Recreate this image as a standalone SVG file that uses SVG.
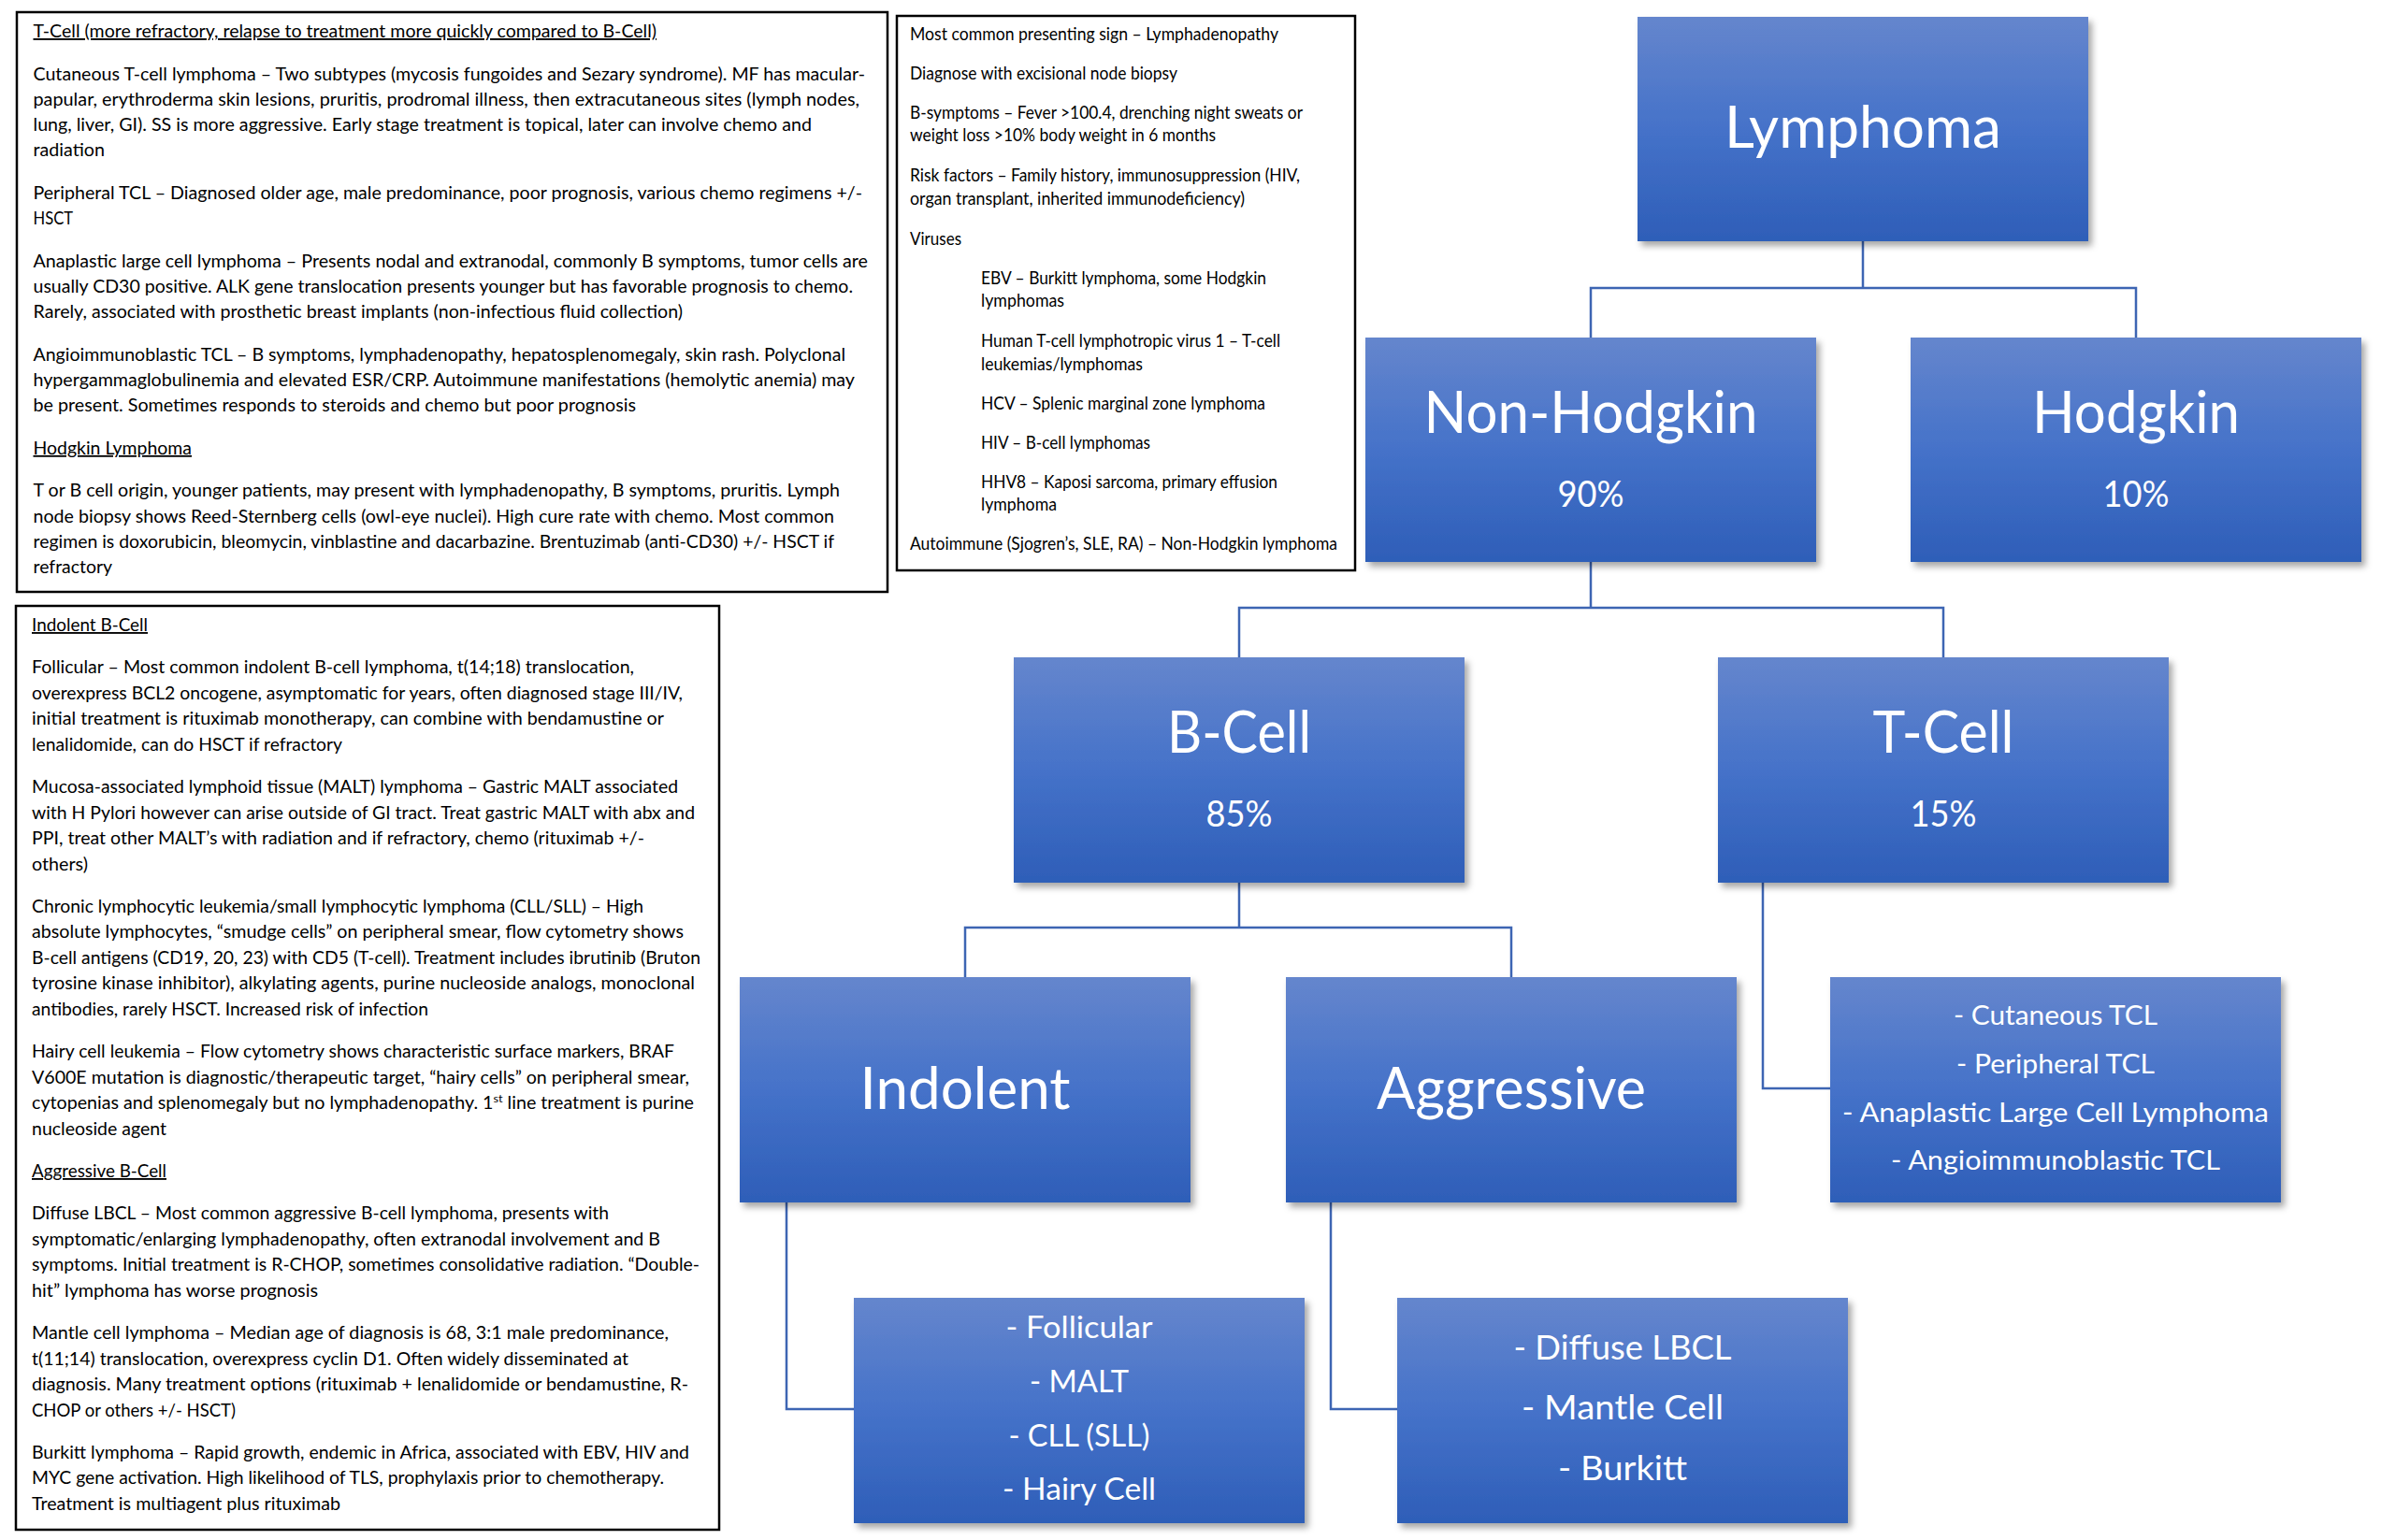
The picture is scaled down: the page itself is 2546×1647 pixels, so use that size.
<svg xmlns="http://www.w3.org/2000/svg" width="2546" height="1647" viewBox="0 0 2546 1647">
<defs>
<linearGradient id="bg" x1="0" y1="0" x2="0" y2="1">
<stop offset="0" stop-color="#6586CD"/>
<stop offset="0.5" stop-color="#4572C9"/>
<stop offset="1" stop-color="#2E5EB8"/>
</linearGradient>
<filter id="sh" x="-10%" y="-10%" width="125%" height="130%">
<feDropShadow dx="4" dy="5" stdDeviation="3.5" flood-color="#000" flood-opacity="0.35"/>
</filter>
<style>
.bg{fill:#fff}
.box{fill:url(#bg);filter:url(#sh)}
.note{fill:#fff;stroke:#000;stroke-width:2.5}
.con{fill:none;stroke:#3D65B3;stroke-width:2.5}
.lbl{font-family:Lato,'Liberation Sans',sans-serif;fill:#fff;text-anchor:middle}
.big{font-size:61px}
.pct{font-size:38px}
.l33{font-size:29.5px}
.l36{font-size:32.5px}
.l42{font-size:37.5px}
.t{font-family:Lato,'Liberation Sans',sans-serif;font-size:18.5px;fill:#000}
.m{font-family:Lato,'Liberation Sans',sans-serif;font-size:19px;fill:#000}
.u{text-decoration:underline}
</style>
</defs>
<rect class="bg" x="0" y="0" width="2546" height="1647"/>

<g id="connectors">
<path class="con" d="M1992,258 V308 M1701,361 V308 H2284 V361"/>
<path class="con" d="M1701,601 V650 M1325,703 V650 H2078 V703"/>
<path class="con" d="M1325,944 V992 M1032,1045 V992 H1616 V1045"/>
<path class="con" d="M841,1285 V1507 H913"/>
<path class="con" d="M1423,1285 V1507 H1494"/>
<path class="con" d="M1885,943 V1164 H1957"/>
</g>

<g id="node-lymphoma">
<rect class="box" x="1751" y="18" width="482" height="240"/>
<text class="lbl big" x="1992" y="158" textLength="296" lengthAdjust="spacingAndGlyphs">Lymphoma</text>
</g>
<g id="node-nonhodgkin">
<rect class="box" x="1460" y="361" width="482" height="240"/>
<text class="lbl big" x="1701" y="463" textLength="357" lengthAdjust="spacingAndGlyphs">Non-Hodgkin</text>
<text class="lbl pct" x="1701" y="542" textLength="71" lengthAdjust="spacingAndGlyphs">90%</text>
</g>
<g id="node-hodgkin">
<rect class="box" x="2043" y="361" width="482" height="240"/>
<text class="lbl big" x="2284" y="463" textLength="222" lengthAdjust="spacingAndGlyphs">Hodgkin</text>
<text class="lbl pct" x="2284" y="542" textLength="71" lengthAdjust="spacingAndGlyphs">10%</text>
</g>
<g id="node-bcell">
<rect class="box" x="1084" y="703" width="482" height="241"/>
<text class="lbl big" x="1325" y="805" textLength="154" lengthAdjust="spacingAndGlyphs">B-Cell</text>
<text class="lbl pct" x="1325" y="884" textLength="71" lengthAdjust="spacingAndGlyphs">85%</text>
</g>
<g id="node-tcell">
<rect class="box" x="1837" y="703" width="482" height="241"/>
<text class="lbl big" x="2078" y="805" textLength="151" lengthAdjust="spacingAndGlyphs">T-Cell</text>
<text class="lbl pct" x="2078" y="884" textLength="71" lengthAdjust="spacingAndGlyphs">15%</text>
</g>
<g id="node-indolent">
<rect class="box" x="791" y="1045" width="482" height="241"/>
<text class="lbl big" x="1032" y="1186" textLength="225" lengthAdjust="spacingAndGlyphs">Indolent</text>
</g>
<g id="node-aggressive">
<rect class="box" x="1375" y="1045" width="482" height="241"/>
<text class="lbl big" x="1616" y="1186" textLength="288" lengthAdjust="spacingAndGlyphs">Aggressive</text>
</g>
<g id="node-tcell-list">
<rect class="box" x="1957" y="1045" width="482" height="241"/>
<text class="lbl l33" x="2198" y="1096" textLength="218" lengthAdjust="spacingAndGlyphs">- Cutaneous TCL</text>
<text class="lbl l33" x="2198" y="1148" textLength="212" lengthAdjust="spacingAndGlyphs">- Peripheral TCL</text>
<text class="lbl l33" x="2198" y="1200" textLength="456" lengthAdjust="spacingAndGlyphs">- Anaplastic Large Cell Lymphoma</text>
<text class="lbl l33" x="2198" y="1251" textLength="352" lengthAdjust="spacingAndGlyphs">- Angioimmunoblastic TCL</text>
</g>
<g id="node-indolent-list">
<rect class="box" x="913" y="1388" width="482" height="241"/>
<text class="lbl l36" x="1154" y="1431" textLength="157" lengthAdjust="spacingAndGlyphs">- Follicular</text>
<text class="lbl l36" x="1154" y="1489" textLength="106" lengthAdjust="spacingAndGlyphs">- MALT</text>
<text class="lbl l36" x="1154" y="1547" textLength="151" lengthAdjust="spacingAndGlyphs">- CLL (SLL)</text>
<text class="lbl l36" x="1154" y="1604" textLength="164" lengthAdjust="spacingAndGlyphs">- Hairy Cell</text>
</g>
<g id="node-aggressive-list">
<rect class="box" x="1494" y="1388" width="482" height="241"/>
<text class="lbl l42" x="1735" y="1454" textLength="233" lengthAdjust="spacingAndGlyphs">- Diffuse LBCL</text>
<text class="lbl l42" x="1735" y="1518" textLength="216" lengthAdjust="spacingAndGlyphs">- Mantle Cell</text>
<text class="lbl l42" x="1735" y="1583" textLength="138" lengthAdjust="spacingAndGlyphs">- Burkitt</text>
</g>

<g id="note-tcell-hodgkin">
<rect class="note" x="18" y="13" width="931" height="620"/>
<text class="t u" x="35.5" y="40" textLength="666.5" lengthAdjust="spacingAndGlyphs">T-Cell (more refractory, relapse to treatment more quickly compared to B-Cell)</text>
<text class="t" x="35.5" y="85.5" textLength="889.5" lengthAdjust="spacingAndGlyphs">Cutaneous T-cell lymphoma – Two subtypes (mycosis fungoides and Sezary syndrome). MF has macular-</text>
<text class="t" x="35.5" y="112.8" textLength="883.5" lengthAdjust="spacingAndGlyphs">papular, erythroderma skin lesions, pruritis, prodromal illness, then extracutaneous sites (lymph nodes,</text>
<text class="t" x="35.5" y="140.1" textLength="832.5" lengthAdjust="spacingAndGlyphs">lung, liver, GI). SS is more aggressive. Early stage treatment is topical, later can involve chemo and</text>
<text class="t" x="35.5" y="167.4" textLength="76.5" lengthAdjust="spacingAndGlyphs">radiation</text>
<text class="t" x="35.5" y="212.9" textLength="886.5" lengthAdjust="spacingAndGlyphs">Peripheral TCL – Diagnosed older age, male predominance, poor prognosis, various chemo regimens +/-</text>
<text class="t" x="35.5" y="240.2" textLength="42.5" lengthAdjust="spacingAndGlyphs">HSCT</text>
<text class="t" x="35.5" y="285.7" textLength="892.5" lengthAdjust="spacingAndGlyphs">Anaplastic large cell lymphoma – Presents nodal and extranodal, commonly B symptoms, tumor cells are</text>
<text class="t" x="35.5" y="313" textLength="876.5" lengthAdjust="spacingAndGlyphs">usually CD30 positive. ALK gene translocation presents younger but has favorable prognosis to chemo.</text>
<text class="t" x="35.5" y="340.3" textLength="694.5" lengthAdjust="spacingAndGlyphs">Rarely, associated with prosthetic breast implants (non-infectious fluid collection)</text>
<text class="t" x="35.5" y="385.8" textLength="868.5" lengthAdjust="spacingAndGlyphs">Angioimmunoblastic TCL – B symptoms, lymphadenopathy, hepatosplenomegaly, skin rash. Polyclonal</text>
<text class="t" x="35.5" y="413.1" textLength="878.5" lengthAdjust="spacingAndGlyphs">hypergammaglobulinemia and elevated ESR/CRP. Autoimmune manifestations (hemolytic anemia) may</text>
<text class="t" x="35.5" y="440.4" textLength="644.5" lengthAdjust="spacingAndGlyphs">be present. Sometimes responds to steroids and chemo but poor prognosis</text>
<text class="t u" x="35.5" y="485.9" textLength="169.5" lengthAdjust="spacingAndGlyphs">Hodgkin Lymphoma</text>
<text class="t" x="35.5" y="531.4" textLength="862.5" lengthAdjust="spacingAndGlyphs">T or B cell origin, younger patients, may present with lymphadenopathy, B symptoms, pruritis. Lymph</text>
<text class="t" x="35.5" y="558.7" textLength="856.5" lengthAdjust="spacingAndGlyphs">node biopsy shows Reed-Sternberg cells (owl-eye nuclei). High cure rate with chemo. Most common</text>
<text class="t" x="35.5" y="586" textLength="856.5" lengthAdjust="spacingAndGlyphs">regimen is doxorubicin, bleomycin, vinblastine and dacarbazine. Brentuzimab (anti-CD30) +/- HSCT if</text>
<text class="t" x="35.5" y="613.3" textLength="84.5" lengthAdjust="spacingAndGlyphs">refractory</text>
</g>

<g id="note-general">
<rect class="note" x="959" y="17" width="490" height="593"/>
<text class="m" x="973" y="43" textLength="394" lengthAdjust="spacingAndGlyphs">Most common presenting sign – Lymphadenopathy</text>
<text class="m" x="973" y="85" textLength="286" lengthAdjust="spacingAndGlyphs">Diagnose with excisional node biopsy</text>
<text class="m" x="973" y="127" textLength="420" lengthAdjust="spacingAndGlyphs">B-symptoms – Fever &gt;100.4, drenching night sweats or</text>
<text class="m" x="973" y="151" textLength="327" lengthAdjust="spacingAndGlyphs">weight loss &gt;10% body weight in 6 months</text>
<text class="m" x="973" y="194" textLength="417" lengthAdjust="spacingAndGlyphs">Risk factors – Family history, immunosuppression (HIV,</text>
<text class="m" x="973" y="219" textLength="358" lengthAdjust="spacingAndGlyphs">organ transplant, inherited immunodeficiency)</text>
<text class="m" x="973" y="262" textLength="55" lengthAdjust="spacingAndGlyphs">Viruses</text>
<text class="m" x="1049" y="304" textLength="305" lengthAdjust="spacingAndGlyphs">EBV – Burkitt lymphoma, some Hodgkin</text>
<text class="m" x="1049" y="328" textLength="89" lengthAdjust="spacingAndGlyphs">lymphomas</text>
<text class="m" x="1049" y="371" textLength="320" lengthAdjust="spacingAndGlyphs">Human T-cell lymphotropic virus 1 – T-cell</text>
<text class="m" x="1049" y="396" textLength="173" lengthAdjust="spacingAndGlyphs">leukemias/lymphomas</text>
<text class="m" x="1049" y="438" textLength="304" lengthAdjust="spacingAndGlyphs">HCV – Splenic marginal zone lymphoma</text>
<text class="m" x="1049" y="480" textLength="181" lengthAdjust="spacingAndGlyphs">HIV – B-cell lymphomas</text>
<text class="m" x="1049" y="522" textLength="317" lengthAdjust="spacingAndGlyphs">HHV8 – Kaposi sarcoma, primary effusion</text>
<text class="m" x="1049" y="546" textLength="81" lengthAdjust="spacingAndGlyphs">lymphoma</text>
<text class="m" x="973" y="588" textLength="457" lengthAdjust="spacingAndGlyphs">Autoimmune (Sjogren’s, SLE, RA) – Non-Hodgkin lymphoma</text>
</g>

<g id="note-bcell">
<rect class="note" x="17" y="648" width="752" height="988"/>
<text class="t u" x="34" y="675" textLength="124" lengthAdjust="spacingAndGlyphs">Indolent B-Cell</text>
<text class="t" x="34" y="720.3" textLength="644" lengthAdjust="spacingAndGlyphs">Follicular – Most common indolent B-cell lymphoma, t(14;18) translocation,</text>
<text class="t" x="34" y="747.8" textLength="696" lengthAdjust="spacingAndGlyphs">overexpress BCL2 oncogene, asymptomatic for years, often diagnosed stage III/IV,</text>
<text class="t" x="34" y="775.3" textLength="676" lengthAdjust="spacingAndGlyphs">initial treatment is rituximab monotherapy, can combine with bendamustine or</text>
<text class="t" x="34" y="802.8" textLength="332" lengthAdjust="spacingAndGlyphs">lenalidomide, can do HSCT if refractory</text>
<text class="t" x="34" y="848.1" textLength="691" lengthAdjust="spacingAndGlyphs">Mucosa-associated lymphoid tissue (MALT) lymphoma – Gastric MALT associated</text>
<text class="t" x="34" y="875.6" textLength="709" lengthAdjust="spacingAndGlyphs">with H Pylori however can arise outside of GI tract. Treat gastric MALT with abx and</text>
<text class="t" x="34" y="903.1" textLength="655" lengthAdjust="spacingAndGlyphs">PPI, treat other MALT’s with radiation and if refractory, chemo (rituximab +/-</text>
<text class="t" x="34" y="930.6" textLength="60" lengthAdjust="spacingAndGlyphs">others)</text>
<text class="t" x="34" y="975.9" textLength="654" lengthAdjust="spacingAndGlyphs">Chronic lymphocytic leukemia/small lymphocytic lymphoma (CLL/SLL) – High</text>
<text class="t" x="34" y="1003.4" textLength="697" lengthAdjust="spacingAndGlyphs">absolute lymphocytes, “smudge cells” on peripheral smear, flow cytometry shows</text>
<text class="t" x="34" y="1030.9" textLength="715" lengthAdjust="spacingAndGlyphs">B-cell antigens (CD19, 20, 23) with CD5 (T-cell). Treatment includes ibrutinib (Bruton</text>
<text class="t" x="34" y="1058.4" textLength="709" lengthAdjust="spacingAndGlyphs">tyrosine kinase inhibitor), alkylating agents, purine nucleoside analogs, monoclonal</text>
<text class="t" x="34" y="1085.9" textLength="424" lengthAdjust="spacingAndGlyphs">antibodies, rarely HSCT. Increased risk of infection</text>
<text class="t" x="34" y="1131.2" textLength="687" lengthAdjust="spacingAndGlyphs">Hairy cell leukemia – Flow cytometry shows characteristic surface markers, BRAF</text>
<text class="t" x="34" y="1158.7" textLength="703" lengthAdjust="spacingAndGlyphs">V600E mutation is diagnostic/therapeutic target, “hairy cells” on peripheral smear,</text>
<text class="t" x="34" y="1186.2" textLength="708" lengthAdjust="spacingAndGlyphs">cytopenias and splenomegaly but no lymphadenopathy. 1<tspan font-size="12" baseline-shift="super">st</tspan> line treatment is purine</text>
<text class="t" x="34" y="1213.7" textLength="144" lengthAdjust="spacingAndGlyphs">nucleoside agent</text>
<text class="t u" x="34" y="1259" textLength="144" lengthAdjust="spacingAndGlyphs">Aggressive B-Cell</text>
<text class="t" x="34" y="1304.3" textLength="617" lengthAdjust="spacingAndGlyphs">Diffuse LBCL – Most common aggressive B-cell lymphoma, presents with</text>
<text class="t" x="34" y="1331.8" textLength="672" lengthAdjust="spacingAndGlyphs">symptomatic/enlarging lymphadenopathy, often extranodal involvement and B</text>
<text class="t" x="34" y="1359.3" textLength="714" lengthAdjust="spacingAndGlyphs">symptoms. Initial treatment is R-CHOP, sometimes consolidative radiation. “Double-</text>
<text class="t" x="34" y="1386.8" textLength="306" lengthAdjust="spacingAndGlyphs">hit” lymphoma has worse prognosis</text>
<text class="t" x="34" y="1432.1" textLength="681" lengthAdjust="spacingAndGlyphs">Mantle cell lymphoma – Median age of diagnosis is 68, 3:1 male predominance,</text>
<text class="t" x="34" y="1459.6" textLength="638" lengthAdjust="spacingAndGlyphs">t(11;14) translocation, overexpress cyclin D1. Often widely disseminated at</text>
<text class="t" x="34" y="1487.1" textLength="702" lengthAdjust="spacingAndGlyphs">diagnosis. Many treatment options (rituximab + lenalidomide or bendamustine, R-</text>
<text class="t" x="34" y="1514.6" textLength="218" lengthAdjust="spacingAndGlyphs">CHOP or others +/- HSCT)</text>
<text class="t" x="34" y="1559.9" textLength="703" lengthAdjust="spacingAndGlyphs">Burkitt lymphoma – Rapid growth, endemic in Africa, associated with EBV, HIV and</text>
<text class="t" x="34" y="1587.4" textLength="676" lengthAdjust="spacingAndGlyphs">MYC gene activation. High likelihood of TLS, prophylaxis prior to chemotherapy.</text>
<text class="t" x="34" y="1614.9" textLength="330" lengthAdjust="spacingAndGlyphs">Treatment is multiagent plus rituximab</text>
</g>
</svg>
